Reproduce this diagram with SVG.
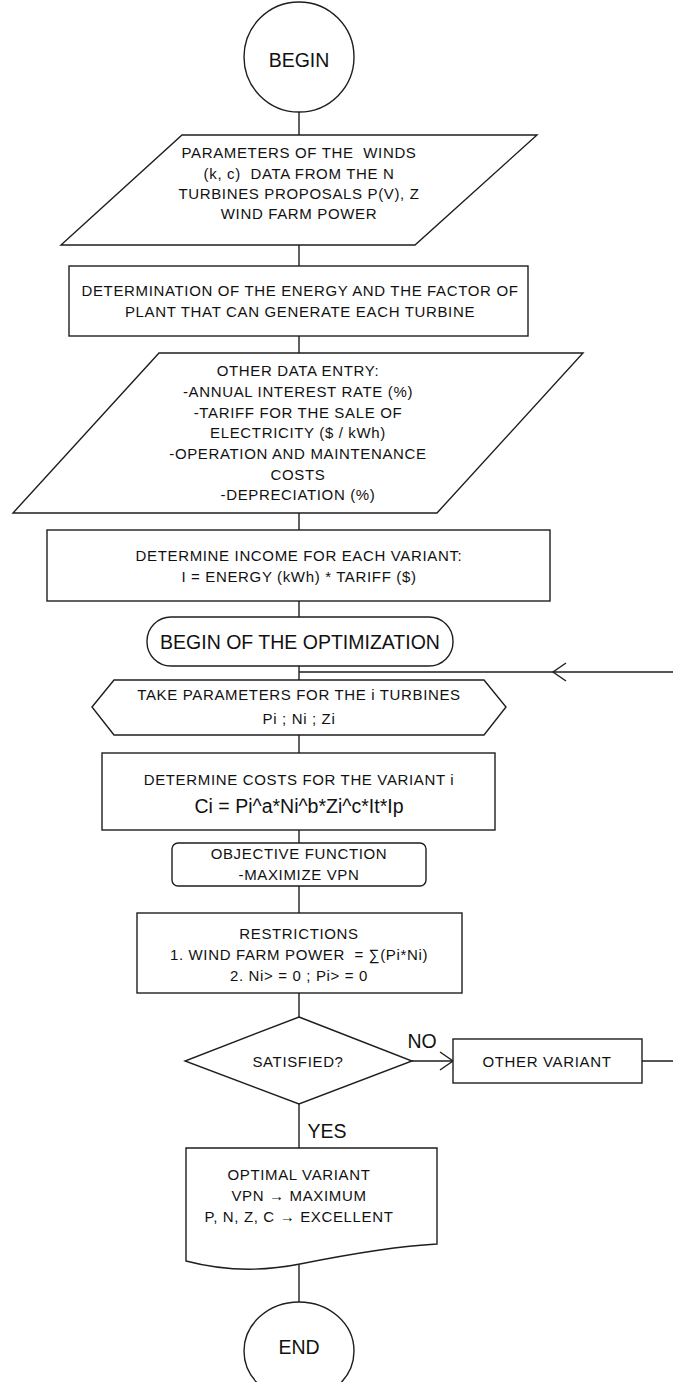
<svg xmlns="http://www.w3.org/2000/svg" width="673" height="1382" viewBox="0 0 673 1382">
<style>
.s{fill:#fff;stroke:#1e1e1e;stroke-width:1.4}
.c{fill:none;stroke:#1e1e1e;stroke-width:1.4}
text{font-family:"Liberation Sans",Arial,sans-serif;fill:#111;text-anchor:middle;white-space:pre}
.t{font-size:15px;letter-spacing:0.65px}
.b{font-size:19.5px}
</style>
<defs>
<marker id="chev" viewBox="-15 -11 17 22" refX="0" refY="0" markerWidth="17" markerHeight="22" orient="auto" markerUnits="userSpaceOnUse">
<path d="M-13,-9 L0,0 L-13,9" fill="none" stroke="#1e1e1e" stroke-width="1.4"/>
</marker>
</defs>
<rect width="673" height="1382" fill="#fff"/>
<g id="connectors">
<path class="c" d="M299,112 V135"/>
<path class="c" d="M299,245 V266"/>
<path class="c" d="M299,336 V353"/>
<path class="c" d="M299,513 V530"/>
<path class="c" d="M299,601 V617"/>
<path class="c" d="M299,666 V680"/>
<path class="c" d="M299,735 V753"/>
<path class="c" d="M299,830 V843"/>
<path class="c" d="M299,886 V913"/>
<path class="c" d="M299,993 V1017"/>
<path class="c" d="M299,1104 V1148"/>
<path class="c" d="M412,1061 H453" marker-end="url(#chev)"/>
<path class="c" d="M642,1061 H700 V672 H553 H299" marker-mid="url(#chev)"/>
<path class="c" d="M299,1265 V1302"/>
<text class="b" x="422" y="1048">NO</text>
<text class="b" x="327" y="1138">YES</text>
</g>
<g id="begin">
<circle class="s" cx="299" cy="57" r="55"/>
<text class="b" x="299" y="67">BEGIN</text>
</g>
<g id="input-winds">
<polygon class="s" points="182,135 537,135 415,245 61,245"/>
<text class="t" x="299" y="158" xml:space="preserve">PARAMETERS OF THE  WINDS</text>
<text class="t" x="299" y="179" xml:space="preserve">(k, c)  DATA FROM THE N</text>
<text class="t" x="299" y="199">TURBINES PROPOSALS P(V), Z</text>
<text class="t" x="299" y="219">WIND FARM POWER</text>
</g>
<g id="energy">
<rect class="s" x="69" y="266" width="459" height="70"/>
<text class="t" x="300" y="296">DETERMINATION OF THE ENERGY AND THE FACTOR OF</text>
<text class="t" x="300" y="317">PLANT THAT CAN GENERATE EACH TURBINE</text>
</g>
<g id="input-other">
<polygon class="s" points="159,353 583,353 437,513 13,513"/>
<text class="t" x="298" y="376">OTHER DATA ENTRY:</text>
<text class="t" x="298" y="397">-ANNUAL INTEREST RATE (%)</text>
<text class="t" x="298" y="418">-TARIFF FOR THE SALE OF</text>
<text class="t" x="298" y="438">ELECTRICITY ($ / kWh)</text>
<text class="t" x="298" y="459">-OPERATION AND MAINTENANCE</text>
<text class="t" x="298" y="480">COSTS</text>
<text class="t" x="298" y="500">-DEPRECIATION (%)</text>
</g>
<g id="income">
<rect class="s" x="47" y="530" width="503" height="71"/>
<text class="t" x="299" y="561">DETERMINE INCOME FOR EACH VARIANT:</text>
<text class="t" x="299" y="582">I = ENERGY (kWh) * TARIFF ($)</text>
</g>
<g id="begin-opt">
<rect class="s" x="147" y="617" width="306" height="49" rx="24" ry="24"/>
<text class="b" x="300" y="649">BEGIN OF THE OPTIMIZATION</text>
</g>
<g id="take-params">
<polygon class="s" points="92,707 114,680 484,680 506,707 484,735 114,735"/>
<text class="t" x="299" y="700">TAKE PARAMETERS FOR THE i TURBINES</text>
<text class="t" x="299" y="724">Pi ; Ni ; Zi</text>
</g>
<g id="costs">
<rect class="s" x="102" y="753" width="393" height="77"/>
<text class="t" x="299" y="785">DETERMINE COSTS FOR THE VARIANT i</text>
<text class="b" x="299" y="813">Ci = Pi^a*Ni^b*Zi^c*It*Ip</text>
</g>
<g id="objective">
<rect class="s" x="172" y="843" width="254" height="43" rx="6" ry="6"/>
<text class="t" x="299" y="859">OBJECTIVE FUNCTION</text>
<text class="t" x="299" y="880">-MAXIMIZE VPN</text>
</g>
<g id="restrictions">
<rect class="s" x="137" y="913" width="325" height="80"/>
<text class="t" x="299" y="939">RESTRICTIONS</text>
<text class="t" x="299" y="960" xml:space="preserve">1. WIND FARM POWER  = ∑(Pi*Ni)</text>
<text class="t" x="299" y="981">2. Ni&gt; = 0 ; Pi&gt; = 0</text>
</g>
<g id="satisfied">
<polygon class="s" points="299,1017 412,1061 299,1104 185,1061"/>
<text class="t" x="298" y="1067">SATISFIED?</text>
</g>
<g id="other-variant">
<rect class="s" x="453" y="1039" width="189" height="44"/>
<text class="t" x="547" y="1067">OTHER VARIANT</text>
</g>
<g id="optimal">
<path class="s" d="M186,1148 H437 V1244 C400,1246 350,1254 300,1264 C260,1272 220,1270 186,1261 Z"/>
<text class="t" x="299" y="1180">OPTIMAL VARIANT</text>
<text class="t" x="299" y="1201">VPN → MAXIMUM</text>
<text class="t" x="299" y="1222">P, N, Z, C → EXCELLENT</text>
</g>
<g id="end">
<ellipse class="s" cx="299" cy="1351" rx="55" ry="49"/>
<text class="b" x="299" y="1354">END</text>
</g>
</svg>
